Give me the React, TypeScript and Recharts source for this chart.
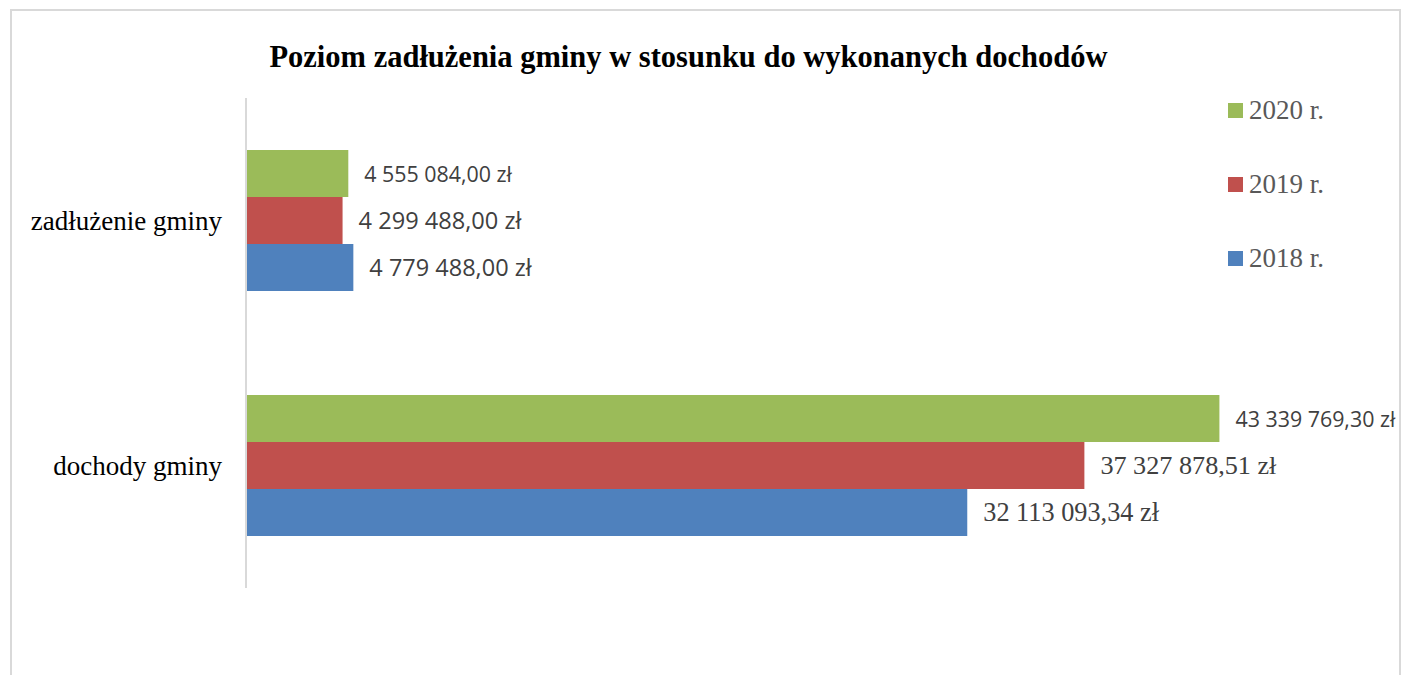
import React from "react";
import { BarChart, Bar, XAxis, YAxis, Legend, LabelList } from "recharts";

const categories = ["zadłużenie gminy", "dochody gminy"];
const values2020 = [4555084.0, 43339769.3];
const values2019 = [4299488.0, 37327878.51];
const values2018 = [4779488.0, 32113093.34];
const seriesNames = ["2020 r.", "2019 r.", "2018 r."];
const seriesKeys = ["y2020", "y2019", "y2018"];
const seriesColors = ["#9BBB59", "#C0504D", "#4F81BD"];
const title = "Poziom zadłużenia gminy w stosunku do wykonanych dochodów";

const data = categories.map((c, i) => ({
  name: c,
  y2020: values2020[i],
  y2019: values2019[i],
  y2018: values2018[i],
}));

function fmt(v: number): string {
  const [int, dec] = v.toFixed(2).split(".");
  const grouped = int.replace(/\B(?=(\d{3})+(?!\d))/g, " ");
  return `${grouped},${dec} zł`;
}

// label font styles per series / category (reference mixes fonts)
const labelFonts: Record<string, { family: string; size: number }[]> = {
  y2020: [
    { family: "'Open Sans', sans-serif", size: 21.4 },
    { family: "'Open Sans', sans-serif", size: 21.4 },
  ],
  y2019: [
    { family: "'Open Sans', sans-serif", size: 23.6 },
    { family: "'Liberation Serif', serif", size: 26.2 },
  ],
  y2018: [
    { family: "'Open Sans', sans-serif", size: 23.5 },
    { family: "'Liberation Serif', serif", size: 26.3 },
  ],
};

const makeLabel = (key: string) => (props: any) => {
  const { x, y, width, height, value, index } = props;
  const f = labelFonts[key][index];
  return (
    <text
      x={Number(x) + Number(width) + 16}
      y={Number(y) + Number(height) / 2}
      dominantBaseline="central"
      textAnchor="start"
      fill="#404040"
      fontFamily={f.family}
      fontSize={f.size}
    >
      {fmt(Number(value))}
    </text>
  );
};

const LegendContent = () => (
  <div style={{ width: 160 }}>
    {seriesNames.map((n, i) => (
      <div
        key={n}
        style={{
          height: 24,
          marginBottom: 50,
          display: "flex",
          alignItems: "center",
        }}
      >
        <div
          style={{
            width: 15,
            height: 15,
            background: seriesColors[i],
            marginRight: 6,
          }}
        />
        <span
          style={{
            fontFamily: "'Liberation Serif', serif",
            fontSize: 27,
            color: "#595959",
            lineHeight: "24px",
          }}
        >
          {n}
        </span>
      </div>
    ))}
  </div>
);

export default function App() {
  return (
    <div
      style={{
        position: "absolute",
        left: 0,
        top: 0,
        width: 1406,
        height: 675,
        overflow: "hidden",
        background: "#fff",
      }}
    >
      <div
        style={{
          position: "absolute",
          left: 10,
          top: 9,
          width: 1387,
          height: 720,
          border: "2px solid #d9d9d9",
        }}
      />
      <div
        style={{
          position: "absolute",
          left: 0,
          top: 37,
          width: 1377,
          textAlign: "center",
          fontFamily: "'Liberation Serif', serif",
          fontWeight: "bold",
          fontSize: 30.5,
          lineHeight: "40px",
          color: "#000",
        }}
      >
        {title}
      </div>
      <div style={{ position: "absolute", left: 0, top: 0 }}>
        <BarChart
          width={1406}
          height={675}
          data={data}
          layout="vertical"
          margin={{ top: 98, right: 37, bottom: 87, left: 0 }}
          barCategoryGap="21.2%"
          barGap={0}
        >
          <XAxis type="number" domain={[0, 50000000]} hide />
          <YAxis
            type="category"
            dataKey="name"
            width={246}
            axisLine={{ stroke: "#d9d9d9", strokeWidth: 2 }}
            tickLine={false}
            tickSize={0}
            tickMargin={24}
            tick={{
              fill: "#000",
              fontSize: 27,
              fontFamily: "'Liberation Serif', serif",
            }}
          />
          <Legend
            layout="horizontal"
            verticalAlign="middle"
            align="center"
            wrapperStyle={{ left: 1228, top: 98, width: 160 }}
            content={<LegendContent />}
          />
          {seriesKeys.map((k, i) => (
            <Bar
              key={k}
              dataKey={k}
              name={seriesNames[i]}
              fill={seriesColors[i]}
              isAnimationActive={false}
            >
              <LabelList dataKey={k} content={makeLabel(k)} />
            </Bar>
          ))}
        </BarChart>
      </div>
    </div>
  );
}
